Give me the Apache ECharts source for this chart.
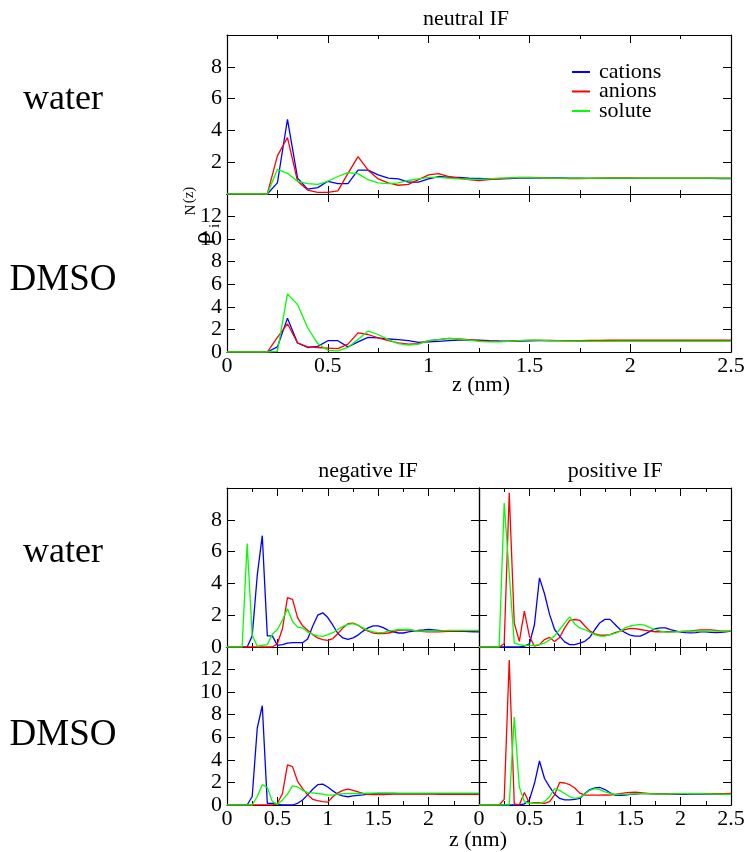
<!DOCTYPE html>
<html lang="en">
<head>
    <meta charset="UTF-8">
    <title>density profiles</title>
    <script type="text/javascript" src="https://cdn.jsdelivr.net/npm/echarts@6/dist/echarts.min.js"></script>
    <style>
        html, body { margin: 0; padding: 0; background: #fff; }
    </style>
</head>
<body>
<div id="main" style="width:749px;height:852px;"></div>

<script type="text/javascript">
    // z grid (nm)
    var zNm = [0, 0.05, 0.1, 0.15, 0.2, 0.25, 0.3, 0.35, 0.4, 0.45,
        0.5, 0.55, 0.6, 0.65, 0.7, 0.75, 0.8, 0.85, 0.9, 0.95,
        1, 1.05, 1.1, 1.15, 1.2, 1.25, 1.3, 1.35, 1.4, 1.45,
        1.5, 1.55, 1.6, 1.65, 1.7, 1.75, 1.8, 1.85, 1.9, 1.95,
        2, 2.05, 2.1, 2.15, 2.2, 2.25, 2.3, 2.35, 2.4, 2.45, 2.5];

    // neutral IF, water
    var neuWaterCat = [0, 0, 0, 0, 0, 0.7, 4.7, 1.0, 0.3, 0.4,
        0.8, 0.65, 0.65, 1.5, 1.5, 1.2, 1.0, 0.95, 0.75, 0.75,
        0.95, 1.1, 1.05, 1.05, 1.0, 0.98, 0.95, 0.95, 0.97, 1.0,
        1.0, 1.0, 1.02, 1.02, 1.0, 1.0, 0.98, 0.98, 0.98, 0.98,
        0.98, 0.98, 0.98, 0.98, 0.98, 0.98, 0.98, 0.98, 0.98, 0.97, 0.97];
    var neuWaterAn = [0, 0, 0, 0, 0, 2.4, 3.55, 0.8, 0.25, 0.1,
        0.1, 0.2, 1.3, 2.35, 1.5, 0.95, 0.7, 0.55, 0.6, 0.9,
        1.2, 1.28, 1.1, 1.0, 0.9, 0.85, 0.9, 0.95, 1.0, 1.05,
        1.05, 1.03, 1.0, 0.98, 0.97, 0.97, 0.98, 1.0, 1.02, 1.02,
        1.02, 1.0, 1.0, 1.0, 1.0, 1.0, 1.0, 1.0, 1.0, 1.0, 1.0];
    var neuWaterSol = [0, 0, 0, 0, 0, 1.55, 1.3, 0.8, 0.65, 0.6,
        0.8, 1.1, 1.35, 1.28, 0.9, 0.7, 0.65, 0.7, 0.85, 0.95,
        1.05, 1.05, 1.0, 0.95, 0.92, 0.92, 0.95, 1.0, 1.02, 1.03,
        1.03, 1.02, 1.0, 1.0, 1.0, 1.0, 1.0, 1.0, 1.0, 1.0,
        1.0, 1.0, 1.0, 1.0, 1.0, 1.0, 1.0, 1.0, 1.0, 1.0, 1.0];

    // neutral IF, DMSO
    var neuDmsoCat = [0, 0, 0, 0, 0, 0.45, 3.0, 0.8, 0.4, 0.5,
        1.0, 1.0, 0.45, 0.9, 1.3, 1.25, 1.15, 1.1, 1.0, 0.85,
        0.9, 0.95, 1.0, 1.05, 1.05, 1.05, 1.0, 0.98, 0.97, 0.97,
        0.98, 1.0, 1.0, 1.0, 0.98, 0.97, 0.97, 0.97, 0.97, 0.97,
        0.97, 0.96, 0.96, 0.96, 0.96, 0.96, 0.96, 0.96, 0.96, 0.96, 0.96];
    var neuDmsoAn = [0, 0, 0, 0, 0, 1.3, 2.5, 0.8, 0.45, 0.4,
        0.35, 0.3, 0.7, 1.7, 1.55, 1.25, 1.0, 0.8, 0.7, 0.75,
        1.0, 1.1, 1.2, 1.15, 1.1, 1.0, 0.95, 0.95, 0.97, 1.0,
        1.03, 1.03, 1.02, 1.0, 1.0, 1.0, 1.02, 1.03, 1.04, 1.05,
        1.05, 1.05, 1.05, 1.05, 1.05, 1.05, 1.05, 1.05, 1.05, 1.05, 1.05];
    var neuDmsoSol = [0, 0, 0, 0, 0, 0.05, 5.15, 4.2, 2.15, 0.75,
        0.15, 0.1, 0.4, 1.1, 1.85, 1.55, 1.1, 0.75, 0.6, 0.7,
        1.0, 1.1, 1.2, 1.15, 1.05, 0.95, 0.9, 0.9, 0.95, 1.0,
        1.05, 1.05, 1.0, 0.98, 0.97, 0.96, 0.95, 0.95, 0.95, 0.95,
        0.95, 0.95, 0.95, 0.95, 0.95, 0.95, 0.95, 0.95, 0.95, 0.95, 0.95];

    // negative IF, water
    var negWaterCat = [0, 0, 0, 0, 0, 0.7, 4.5, 7.0, 0.7, 0.7,
        0.1, 0.15, 0.25, 0.27, 0.27, 0.27, 0.5, 1.3, 2.0, 2.15,
        1.85, 1.37, 0.85, 0.57, 0.48, 0.57, 0.75, 1.0, 1.2, 1.33,
        1.33, 1.22, 1.05, 0.95, 0.88, 0.88, 0.95, 1.0, 1.05, 1.07,
        1.1, 1.08, 1.05, 1.02, 1.0, 0.98, 0.98, 0.98, 0.97, 0.96, 0.95];
    var negWaterAn = [0, 0, 0, 0, 0, 0, 0, 0, 0, 0,
        0.2, 1.15, 3.1, 3.0, 1.85, 1.33, 1.05, 0.78, 0.57, 0.46,
        0.42, 0.53, 0.85, 1.2, 1.47, 1.5, 1.37, 1.15, 1.0, 0.88,
        0.85, 0.85, 0.88, 0.95, 1.05, 1.07, 1.07, 1.05, 1.0, 0.97,
        0.95, 0.95, 0.95, 0.97, 0.98, 1.0, 1.0, 1.02, 1.02, 1.02, 1.02];
    var negWaterSol = [0, 0, 0, 0, 6.5, 0.75, 0.05, 0.1, 0.15, 0.8,
        1.1, 1.7, 2.4, 1.6, 1.25, 1.2, 0.95, 0.8, 0.7, 0.67,
        0.78, 0.9, 1.1, 1.3, 1.42, 1.47, 1.37, 1.2, 1.05, 0.95,
        0.9, 0.9, 1.0, 1.05, 1.1, 1.1, 1.1, 1.05, 1.0, 1.0,
        1.0, 1.0, 1.02, 1.03, 1.05, 1.05, 1.05, 1.05, 1.05, 1.05, 1.05];

    // positive IF, water
    var posWaterCat = [0, 0, 0, 0, 0, 0, 0, 0, 0, 0.05,
        0.2, 1.4, 4.35, 3.35, 2.05, 1.1, 0.68, 0.32, 0.15, 0.15,
        0.25, 0.36, 0.62, 1.1, 1.53, 1.74, 1.74, 1.42, 1.1, 0.9,
        0.74, 0.68, 0.68, 0.83, 1.0, 1.15, 1.2, 1.2, 1.1, 1.02,
        0.93, 0.9, 0.89, 0.9, 0.95, 0.95, 0.92, 0.9, 0.92, 0.95, 1.0];
    var posWaterAn = [0, 0, 0, 0, 0, 0.2, 9.7, 1.5, 0.35, 2.25,
        0.68, 0.05, 0.15, 0.47, 0.6, 0.35, 0.6, 1.2, 1.68, 1.73,
        1.68, 1.32, 1.0, 0.83, 0.74, 0.74, 0.78, 0.9, 1.0, 1.1,
        1.17, 1.15, 1.1, 1.05, 1.0, 0.96, 0.96, 0.96, 0.96, 0.97,
        0.98, 1.0, 1.02, 1.05, 1.08, 1.08, 1.08, 1.05, 1.02, 1.0, 1.0];
    var posWaterSol = [0, 0, 0, 0, 0, 9.05, 4.6, 0.25, 0.15, 0.1,
        0.1, 0.1, 0.15, 0.25, 0.45, 0.7, 1.1, 1.5, 1.9, 1.45,
        1.2, 1.1, 0.93, 0.78, 0.68, 0.68, 0.78, 0.85, 1.0, 1.2,
        1.32, 1.38, 1.42, 1.36, 1.2, 1.1, 1.0, 0.95, 0.93, 0.95,
        0.97, 0.98, 1.0, 1.0, 1.0, 1.0, 1.0, 1.0, 1.0, 1.0, 1.02];

    // negative IF, DMSO
    var negDmsoCat = [0, 0, 0, 0, 0, 0.75, 6.8, 8.8, 0.15, 0.15,
        0.05, 0, 0, 0, 0.15, 0.45, 0.9, 1.4, 1.8, 1.85,
        1.6, 1.25, 0.95, 0.8, 0.73, 0.8, 0.85, 0.9, 0.97, 1.0,
        1.02, 1.02, 1.02, 1.02, 1.0, 1.0, 1.0, 1.0, 1.0, 1.0,
        1.0, 1.0, 1.0, 1.0, 1.0, 1.0, 1.0, 1.0, 1.0, 1.0, 1.0];
    var negDmsoAn = [0, 0, 0, 0, 0, 0, 0, 0, 0, 0,
        0.15, 1.0, 3.55, 3.4, 2.1, 1.45, 0.9, 0.5, 0.38, 0.3,
        0.25, 0.73, 1.08, 1.3, 1.4, 1.3, 1.17, 1.02, 0.94, 0.92,
        0.92, 0.93, 0.95, 0.96, 0.97, 0.97, 0.97, 0.97, 0.97, 0.96,
        0.96, 0.96, 0.95, 0.95, 0.95, 0.95, 0.95, 0.95, 0.95, 0.95, 0.95];
    var negDmsoSol = [0, 0, 0, 0, 0, 0, 0.75, 1.8, 1.55, 0.3,
        0.05, 0.45, 0.97, 1.7, 1.6, 1.3, 1.1, 1.08, 1.02, 0.97,
        0.88, 0.88, 0.97, 1.0, 1.0, 1.02, 1.02, 1.03, 1.04, 1.05,
        1.06, 1.06, 1.06, 1.06, 1.06, 1.06, 1.06, 1.06, 1.06, 1.06,
        1.06, 1.06, 1.06, 1.06, 1.06, 1.06, 1.06, 1.06, 1.06, 1.06, 1.06];

    // positive IF, DMSO
    var posDmsoCat = [0, 0, 0, 0, 0, 0, 0, 0, 0, 0.1,
        0.45, 1.9, 3.9, 2.35, 1.6, 0.97, 0.58, 0.45, 0.45, 0.5,
        0.58, 1.02, 1.37, 1.52, 1.55, 1.37, 1.08, 0.88, 0.85, 0.88,
        0.94, 0.97, 1.0, 1.0, 1.0, 0.99, 0.98, 0.97, 0.96, 0.95,
        0.95, 0.95, 0.96, 0.97, 0.97, 0.97, 0.96, 0.96, 0.95, 0.95, 0.95];
    var posDmsoAn = [0, 0, 0, 0, 0, 0.5, 12.85, 0.1, 0, 1.1,
        0.15, 0.2, 0.2, 0.15, 0.3, 0.9, 2.0, 1.95, 1.8, 1.5,
        1.05, 0.88, 0.88, 0.87, 0.87, 0.9, 0.88, 0.95, 1.0, 1.07,
        1.12, 1.14, 1.1, 1.05, 1.0, 0.98, 0.98, 0.98, 0.99, 1.0,
        1.0, 1.0, 1.0, 1.0, 1.0, 1.0, 1.0, 1.0, 1.0, 1.01, 1.02];
    var posDmsoSol = [0, 0, 0, 0, 0, 0, 0, 7.8, 1.6, 0.3,
        0.15, 0.15, 0.15, 0.3, 0.73, 1.46, 1.3, 1.02, 0.73, 0.58,
        0.67, 0.97, 1.3, 1.46, 1.37, 1.17, 1.02, 0.94, 0.94, 0.95,
        0.97, 0.99, 1.0, 1.0, 0.99, 0.98, 0.97, 0.97, 0.98, 0.99,
        1.0, 1.0, 1.0, 1.0, 1.0, 0.99, 0.98, 0.97, 0.96, 0.95, 0.95];

    var seriesNames = ['cations', 'anions', 'solute'];
    var seriesColors = ['#0000ff', '#ff0000', '#00ff00'];

    var font = 'Liberation Serif';
    var grids = [], xAxes = [], yAxes = [], series = [];

    function addPanel(p) {
        var gi = grids.length;
        grids.push({left: p.left, top: p.top, width: p.w, height: p.h,
            containLabel: false, outerBoundsMode: 'none'});

        var line = {show: true, onZero: false, lineStyle: {color: '#000', width: 1.2}};
        var tick = {show: true, inside: true, length: 8, lineStyle: {color: '#000', width: 1}};
        var lab = {color: '#000', fontFamily: font, fontSize: 22};

        var xBase = {type: 'value', gridIndex: gi, min: 0, max: 2.5, interval: 0.5,
            axisLine: line, axisTick: tick,
            minorTick: {show: true, splitNumber: 2, length: 4, lineStyle: {color: '#000', width: 1}},
            splitLine: {show: false}, minorSplitLine: {show: false}};
        var yBase = {type: 'value', gridIndex: gi, min: 0, max: p.ymax, interval: 2,
            axisLine: line, axisTick: tick, splitLine: {show: false}};

        xAxes.push(Object.assign({}, xBase, {position: 'bottom',
            axisLabel: p.xLab ? Object.assign({margin: 3, showMaxLabel: p.xMax}, lab) : {show: false}}));
        xAxes.push(Object.assign({}, xBase, {position: 'top', axisLabel: {show: false}}));
        yAxes.push(Object.assign({}, yBase, {position: 'left',
            axisLabel: p.yLab ? Object.assign({margin: 5, showMinLabel: p.yMin, showMaxLabel: false}, lab) : {show: false}}));
        yAxes.push(Object.assign({}, yBase, {position: 'right', axisLabel: {show: false}}));

        var xi = xAxes.length - 2, yi = yAxes.length - 2;
        [p.cat, p.an, p.sol].forEach(function (vals, k) {
            series.push({
                name: seriesNames[k], type: 'line', xAxisIndex: xi, yAxisIndex: yi,
                showSymbol: false, symbol: 'none', clip: true, animation: false,
                itemStyle: {color: seriesColors[k]},
                lineStyle: {color: seriesColors[k], width: 1.3},
                data: zNm.map(function (z, i) { return [z, vals[i]]; })
            });
        });
    }

    addPanel({left: 227, top: 35, w: 504, h: 159, ymax: 10, xLab: false, yLab: true, yMin: false,
        cat: neuWaterCat, an: neuWaterAn, sol: neuWaterSol});
    addPanel({left: 227, top: 194, w: 504, h: 158, ymax: 14, xLab: true, xMax: true, yLab: true, yMin: true,
        cat: neuDmsoCat, an: neuDmsoAn, sol: neuDmsoSol});
    addPanel({left: 227, top: 488, w: 252, h: 159, ymax: 10, xLab: false, yLab: true, yMin: true,
        cat: negWaterCat, an: negWaterAn, sol: negWaterSol});
    addPanel({left: 479, top: 488, w: 252, h: 159, ymax: 10, xLab: false, yLab: false,
        cat: posWaterCat, an: posWaterAn, sol: posWaterSol});
    addPanel({left: 227, top: 647, w: 252, h: 158, ymax: 14, xLab: true, xMax: false, yLab: true, yMin: true,
        cat: negDmsoCat, an: negDmsoAn, sol: negDmsoSol});
    addPanel({left: 479, top: 647, w: 252, h: 158, ymax: 14, xLab: true, xMax: true, yLab: false,
        cat: posDmsoCat, an: posDmsoAn, sol: posDmsoSol});

    function label(text, x, y, size, rot) {
        return {type: 'text', x: x, y: y, rotation: rot || 0, silent: true, z: 100,
            style: {text: text, fill: '#000', font: size + 'px "' + font + '"',
                textAlign: 'center', textVerticalAlign: 'middle'}};
    }

    var texts = [
        label('neutral IF', 466, 19, 22),
        label('negative IF', 368, 471, 22),
        label('positive IF', 615, 471, 22),
        label('z (nm)', 481, 385, 22),
        label('z (nm)', 478, 840, 22),
        label('water', 63, 100, 36),
        label('DMSO', 63, 280, 37),
        label('water', 63, 553, 36),
        label('DMSO', 63, 735, 37),
        // rho_i^N(z), rotated to read upwards
        label('\u03c1', 203, 238, 25, Math.PI / 2),
        label('i', 215, 226, 15, Math.PI / 2),
        label('N', 191, 210, 15, Math.PI / 2),
        label('(z)', 189, 195, 15, Math.PI / 2)
    ];

    var chart = echarts.init(document.getElementById('main'), null, {renderer: 'canvas'});
    chart.setOption({
        animation: false,
        backgroundColor: '#fff',
        grid: grids,
        xAxis: xAxes,
        yAxis: yAxes,
        legend: {
            data: seriesNames, orient: 'vertical', left: 572, top: 61, padding: 0,
            icon: 'rect', itemWidth: 18, itemHeight: 2, itemGap: -2.5,
            selectedMode: false,
            textStyle: {color: '#000', fontFamily: font, fontSize: 22, padding: [0, 0, 0, 4]}
        },
        graphic: texts,
        series: series
    });
</script>
</body>
</html>
